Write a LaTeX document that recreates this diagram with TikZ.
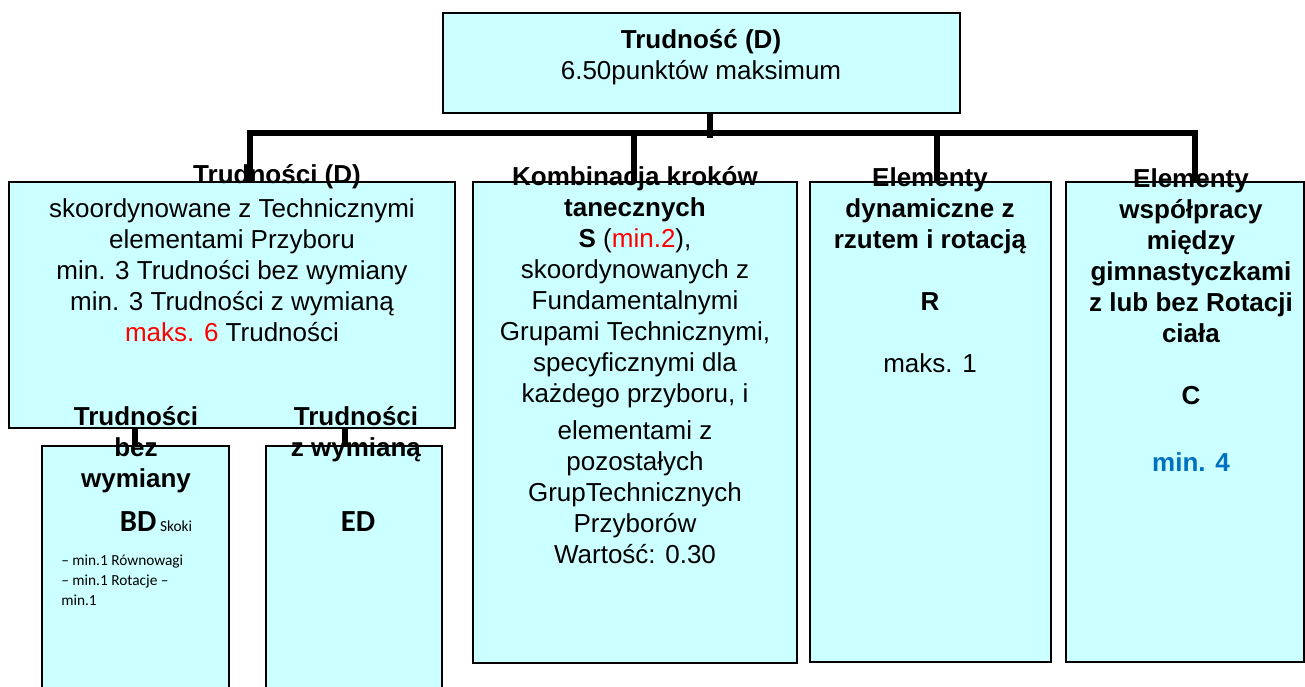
\documentclass[tikz,border=0pt]{standalone}
\usepackage{fontspec}
\setmainfont{Liberation Sans}
\newfontfamily\calib{Carlito}
\usetikzlibrary{fit,positioning}
\definecolor{boxcyan}{HTML}{CCFFFF}
\definecolor{minblue}{HTML}{0070C0}
\newcommand{\bodyfont}{\fontsize{19.5}{23.25}\selectfont}

\begin{document}
\begin{tikzpicture}[x=0.75pt,y=-0.75pt,
  box/.style={draw=black,line width=1.1pt,fill=boxcyan,inner sep=0pt},
  txt/.style={font=\bodyfont,align=center,inner sep=0pt},
  small/.style={font=\calib\fontsize{11.5}{15}\selectfont,align=left,inner sep=0pt},
  bus/.style={line width=4pt},
  link/.style={line width=4.5pt}]
\useasboundingbox (0,0) rectangle (1305,686);

% boxes
\node[box,fit={(443,13) (960,113)}] (top) {};
\node[box,fit={(9,182) (455,428)}] (trud) {};
\node[box,fit={(473,182) (797,663)}] (komb) {};
\node[box,fit={(810,182) (1051,662)}] (dyn) {};
\node[box,fit={(1066,182) (1304,662)}] (wsp) {};
\node[box,fit={(42,446) (229,700)}] (bez) {};
\node[box,fit={(266,446) (442,700)}] (zwym) {};

% texts
\node[txt] (topT) at (701,57) {\textbf{Trudność (D)}\\6.50punktów maksimum};
\node[txt] (trudT) at (277,177) {\textbf{Trudności (D)}};
\node[txt] (trudB) at (232,270) {skoordynowane z Technicznymi\\elementami Przyboru\\min. 3 Trudności bez wymiany\\min. 3 Trudności z wymianą\\\textcolor{red}{maks. 6} Trudności};
\node[txt] (kombT) at (635,365) {\textbf{Kombinacja kroków}\\\textbf{tanecznych}\\\textbf{S} (\textcolor{red}{min.2}),\\skoordynowanych z\\Fundamentalnymi\\Grupami Technicznymi,\\specyficznymi dla\\każdego przyboru, i\\[5pt]elementami z\\pozostałych\\GrupTechnicznych\\Przyborów\\Wartość: 0.30};
\node[txt] (dynT) at (930,270) {\textbf{Elementy}\\\textbf{dynamiczne z}\\\textbf{rzutem i rotacją}\\[23.25pt]\textbf{R}\\[23.25pt]maks. 1};
\node[txt] (wspT) at (1191,320) {\textbf{Elementy}\\\textbf{współpracy}\\\textbf{między}\\\textbf{gimnastyczkami}\\\textbf{z lub bez Rotacji}\\\textbf{ciała}\\[23.25pt]\textbf{C}\\[27pt]\textcolor{minblue}{\textbf{min. 4}}};
\node[txt] (bezT) at (136,450) {\textbf{Trudności}\\\textbf{bez}\\\textbf{wymiany}};
\node[txt] (zwymT) at (356,434) {\textbf{Trudności}\\\textbf{z wymianą}};
\node[inner sep=0pt,anchor=base] (bd) at (156,531) {{\calib\fontsize{23}{28}\selectfont\bfseries BD} {\calib\fontsize{11.5}{15}\selectfont Skoki}};
\node[small,anchor=west] (bdL) at (61,580) {– min.1 Równowagi\\– min.1 Rotacje –\\min.1};
\node[inner sep=0pt,anchor=base] (ed) at (358,531) {\calib\fontsize{23}{28}\selectfont\bfseries ED};

% connectors
\coordinate (t0) at (710,113);
\coordinate (jm) at (710,133);
\coordinate (j1) at (250,182);
\coordinate (j2) at (634,182);
\coordinate (j3) at (937,182);
\coordinate (j4) at (1195,182);
\draw[bus] (j1) |- (jm) -| (j4);
\draw[bus] (j2) -- (j2 |- jm);
\draw[bus] (j3) -- (j3 |- jm);
\draw[bus] (t0) -- ([yshift=-4pt]jm);
\coordinate (k1) at (135,428);
\coordinate (k2) at (345,428);
\draw[link] (k1) -- (k1 |- bez.north);
\draw[link] (k2) -- (k2 |- zwym.north);
\end{tikzpicture}
\end{document}
